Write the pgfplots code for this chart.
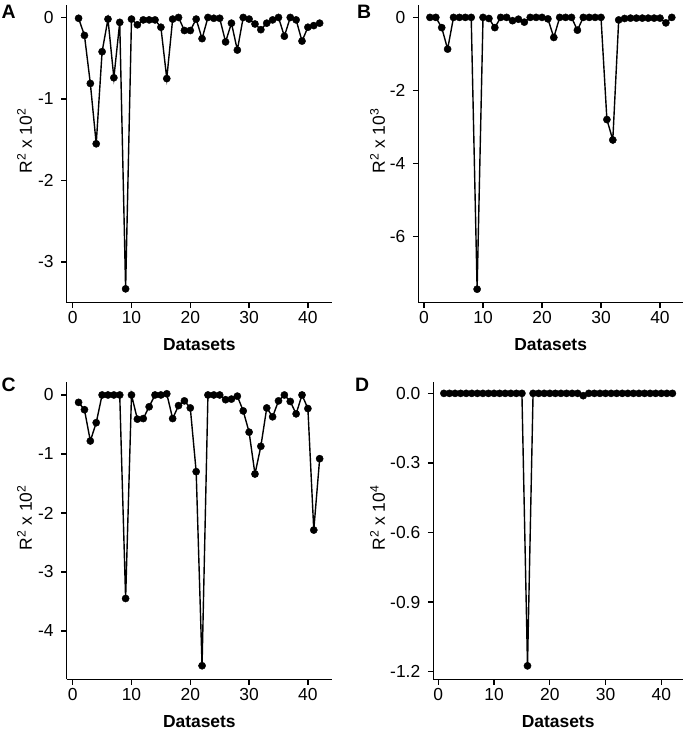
\documentclass[border=0pt]{standalone}
\usepackage{fontspec}
\setmainfont{Liberation Sans}
\usepackage{pgfplots}
\pgfplotsset{compat=1.18}
\pgfplotsset{
  panel/.style={
    scale only axis,
    anchor=south west,
    clip=false,
    axis x line*=bottom,
    axis y line*=left,
    axis line style={-, line width=1.3bp},
    tick align=outside,
    major tick length=5.5bp,
    every tick/.style={black, line width=1.3bp},
    xtick={0,10,20,30,40},
    tick label style={font=\fontsize{17.5}{17.5}\selectfont},
    yticklabel style={xshift=-4bp},
    /pgf/number format/assume math mode=true,
    xlabel={Datasets},
    every axis x label/.style={at={(axis description cs:0.5,0)}, anchor=north, inner sep=0pt, yshift=-36bp, font=\fontsize{17.5}{17.5}\selectfont\bfseries},
  },
  dat/.style={black, line width=1.4bp, mark=*, mark size=3.6bp, mark options={solid, fill=black, line width=0.4bp}},
  ylab/.style={every axis y label/.style={at={(axis description cs:#1,0.543)}, rotate=90, anchor=base, inner sep=0pt, font=\fontsize{17.5}{17.5}\selectfont}},
}
\begin{document}
\begin{tikzpicture}
\path[use as bounding box] (0,0) rectangle (685bp,730bp);
% Panel A
\begin{axis}[panel, at={(66.7bp,427.3bp)}, width=265.3bp, height=297.7bp,
  xmin=-1.02, xmax=44.1, ymin=-3.5, ymax=0.153,
  ytick={-3,-2,-1,0}, ylab=-0.131,
  ylabel={R\textsuperscript{2} x 10\textsuperscript{2}}]
\addplot[dat] coordinates {(1,-0.01)(2,-0.22)(3,-0.81)(4,-1.55)(5,-0.42)(6,-0.02)(7,-0.74)(8,-0.06)(9,-3.33)(10,-0.02)(11,-0.09)(12,-0.03)(13,-0.03)(14,-0.03)(15,-0.12)(16,-0.75)(17,-0.02)(18,0)(19,-0.16)(20,-0.16)(21,-0.02)(22,-0.26)(23,0)(24,-0.01)(25,-0.01)(26,-0.30)(27,-0.07)(28,-0.40)(29,0)(30,-0.02)(31,-0.08)(32,-0.15)(33,-0.07)(34,-0.03)(35,0)(36,-0.23)(37,0)(38,-0.03)(39,-0.29)(40,-0.12)(41,-0.10)(42,-0.07)};
\end{axis}
% Panel B
\begin{axis}[panel, at={(418.3bp,427.3bp)}, width=264.7bp, height=297.7bp,
  xmin=-0.97, xmax=43.9, ymin=-7.82, ymax=0.34,
  ytick={-6,-4,-2,0}, ylab=-0.126,
  ylabel={R\textsuperscript{2} x 10\textsuperscript{3}}]
\addplot[dat] coordinates {(1,0)(2,0)(3,-0.28)(4,-0.87)(5,0)(6,0)(7,0)(8,0)(9,-7.45)(10,0)(11,-0.03)(12,-0.28)(13,0)(14,0)(15,-0.09)(16,-0.05)(17,-0.13)(18,0)(19,0)(20,0)(21,-0.04)(22,-0.55)(23,0)(24,0)(25,0)(26,-0.35)(27,0)(28,0)(29,0)(30,0)(31,-2.80)(32,-3.36)(33,-0.07)(34,-0.03)(35,-0.02)(36,-0.02)(37,-0.02)(38,-0.02)(39,-0.02)(40,-0.02)(41,-0.15)(42,0)};
\end{axis}
% Panel C
\begin{axis}[panel, at={(66.7bp,50.7bp)}, width=265.3bp, height=297.6bp,
  xmin=-1.02, xmax=44.1, ymin=-4.82, ymax=0.225,
  ytick={-4,-3,-2,-1,0}, ylab=-0.131,
  ylabel={R\textsuperscript{2} x 10\textsuperscript{2}}]
\addplot[dat] coordinates {(1,-0.125)(2,-0.25)(3,-0.78)(4,-0.47)(5,0)(6,0)(7,0)(8,0)(9,-3.45)(10,0)(11,-0.41)(12,-0.40)(13,-0.20)(14,0)(15,0)(16,0.02)(17,-0.40)(18,-0.18)(19,-0.10)(20,-0.22)(21,-1.30)(22,-4.59)(23,0)(24,0)(25,0)(26,-0.08)(27,-0.07)(28,-0.02)(29,-0.27)(30,-0.63)(31,-1.34)(32,-0.87)(33,-0.22)(34,-0.37)(35,-0.10)(36,0)(37,-0.11)(38,-0.32)(39,0)(40,-0.23)(41,-2.29)(42,-1.08)};
\end{axis}
% Panel D
\begin{axis}[panel, at={(433.3bp,50.7bp)}, width=249.7bp, height=297.3bp,
  xmin=-0.9, xmax=43.9, ymin=-1.233, ymax=0.049,
  ytick={-1.2,-0.9,-0.6,-0.3,0}, ylab=-0.194,
  yticklabel style={/pgf/number format/.cd, fixed, fixed zerofill, precision=1},
  ylabel={R\textsuperscript{2} x 10\textsuperscript{4}}]
\addplot[dat] coordinates {(1,0)(2,0)(3,0)(4,0)(5,0)(6,0)(7,0)(8,0)(9,0)(10,0)(11,0)(12,0)(13,0)(14,0)(15,0)(16,-1.175)(17,0)(18,0)(19,0)(20,0)(21,0)(22,0)(23,0)(24,0)(25,0)(26,-0.01)(27,0)(28,0)(29,0)(30,0)(31,0)(32,0)(33,0)(34,0)(35,0)(36,0)(37,0)(38,0)(39,0)(40,0)(41,0)(42,0)};
\end{axis}
\begin{scope}[every node/.style={anchor=north west, inner sep=0pt, font=\fontsize{19.5}{19.5}\selectfont\bfseries}]
\node at (1.5bp,725.5bp) {A};
\node at (357bp,725.5bp) {B};
\node at (1.5bp,352.5bp) {C};
\node at (355bp,352.5bp) {D};
\end{scope}
\end{tikzpicture}
\end{document}
